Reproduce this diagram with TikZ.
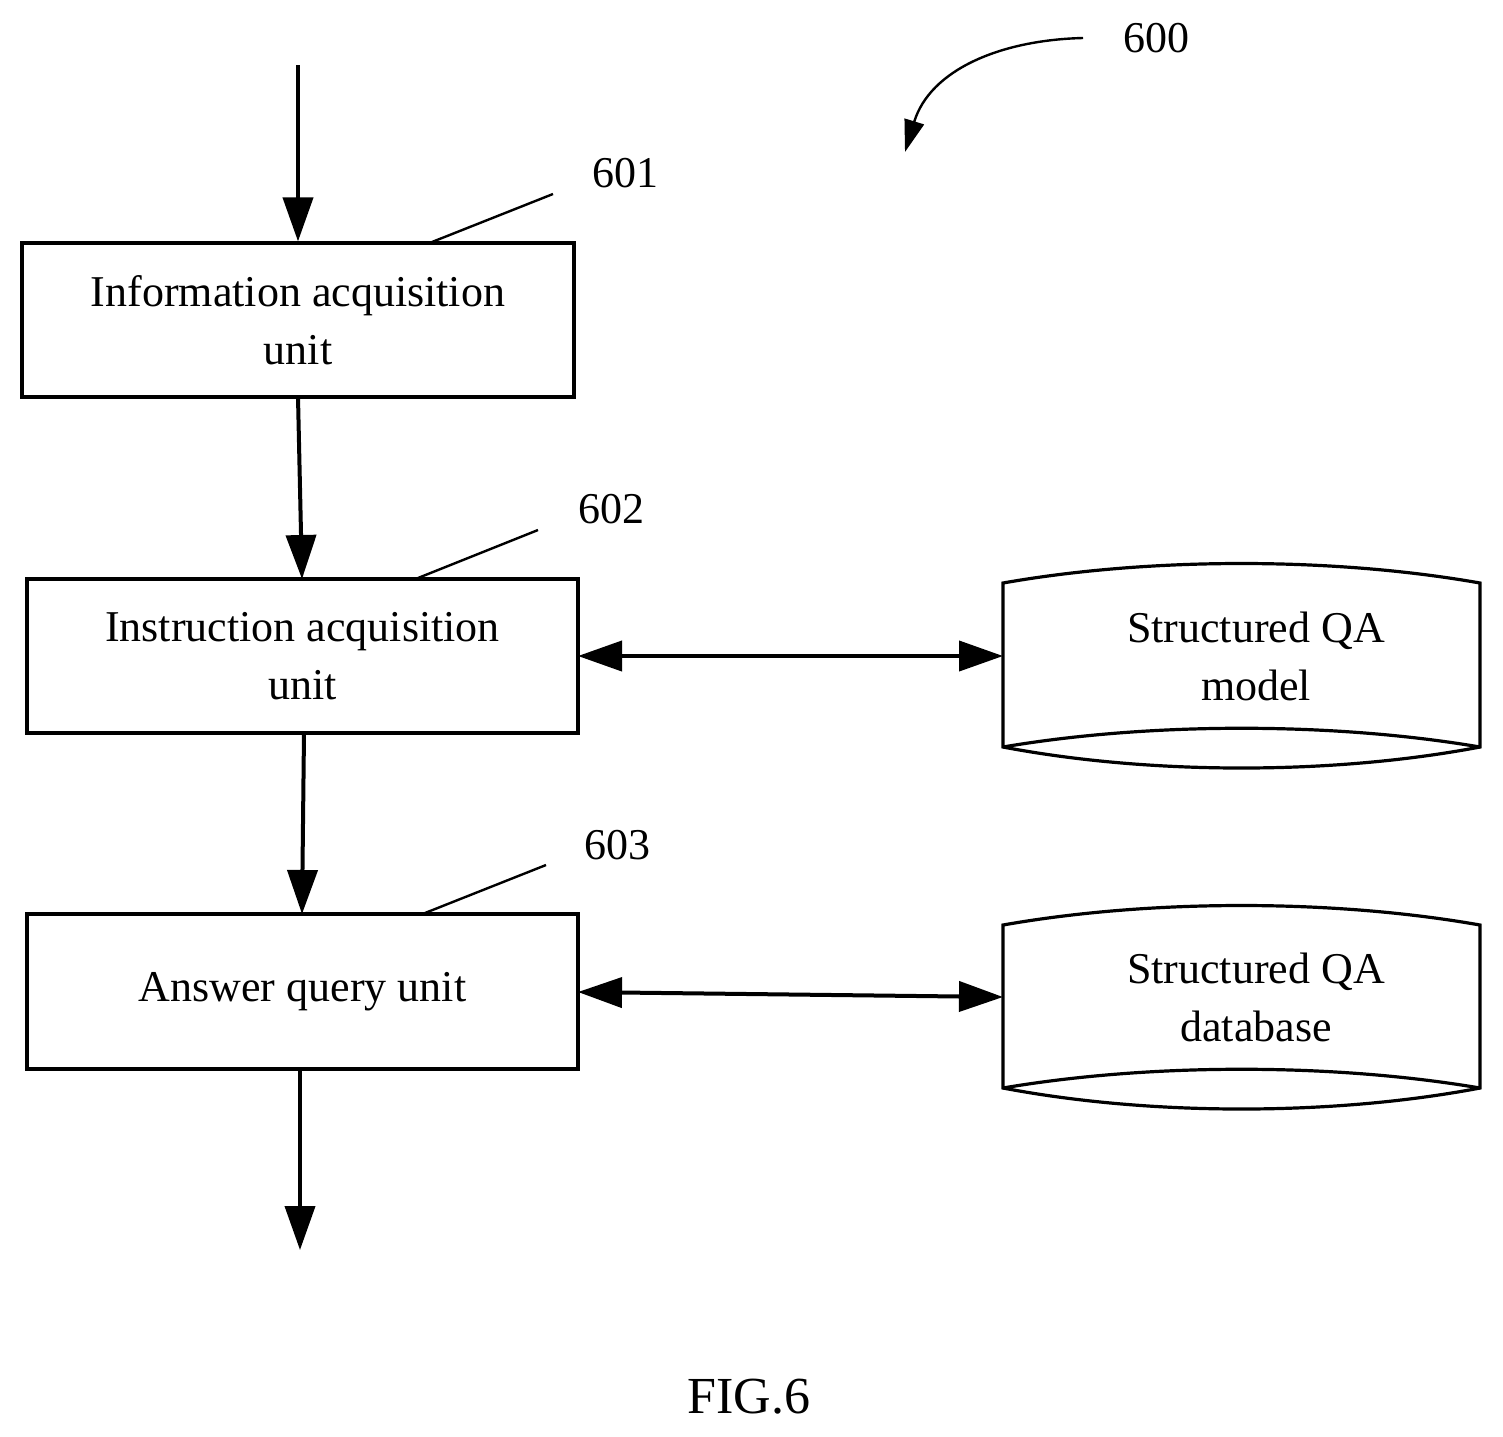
\documentclass[tikz,border=0pt]{standalone}
\usepackage{fontspec}
\setmainfont{Liberation Serif}
\usetikzlibrary{arrows.meta}
\begin{document}
\begin{tikzpicture}[x=0.5pt,y=-0.5pt,
  box/.style={draw,line width=1.6pt,inner sep=0pt,align=center,font=\fontsize{22}{29}\selectfont},
  arr/.style={line width=2pt,-{Triangle[length=22pt,width=15pt]}},
  darr/.style={line width=2pt,{Triangle[length=22pt,width=15pt]}-{Triangle[length=22pt,width=15pt]}},
  lead/.style={line width=1.2pt},
  lbl/.style={font=\fontsize{22}{26}\selectfont}]
\useasboundingbox (0,0) rectangle (1503,1436);
\node[box,minimum width=276pt,minimum height=77pt] (b1) at (298,320) {Information acquisition\\unit};
\node[box,minimum width=275.5pt,minimum height=77pt] (b2) at (302.5,656) {Instruction acquisition\\unit};
\node[box,minimum width=275.5pt,minimum height=77.5pt] (b3) at (302.5,991.5) {Answer query unit};
% cylinders
\draw[line width=1.6pt] (1003,583) .. controls (1150,557) and (1333,557) .. (1480,583) -- (1480,747)
  .. controls (1333,775) and (1150,775) .. (1003,747) -- cycle;
\draw[line width=1.6pt] (1003,747) .. controls (1150,722) and (1333,722) .. (1480,747);
\node[lbl,align=center,font=\fontsize{22}{29}\selectfont] (c1) at (1256,656) {Structured QA\\model};
\coordinate (c1w) at (1003,656);
\draw[line width=1.6pt] (1003,925) .. controls (1150,899) and (1333,899) .. (1480,925) -- (1480,1088)
  .. controls (1333,1116) and (1150,1116) .. (1003,1088) -- cycle;
\draw[line width=1.6pt] (1003,1088) .. controls (1150,1063) and (1333,1063) .. (1480,1088);
\node[lbl,align=center,font=\fontsize{22}{29}\selectfont] (c2) at (1256,997) {Structured QA\\database};
\coordinate (c2w) at (1003,997);
% arrows
\coordinate (in) at (298,65);
\coordinate (out) at (300,1250);
\draw[arr] (in) -- (b1.north);
\draw[arr] (298,397) -- (302,579);
\draw[arr] (304,733) -- (302,914);
\draw[arr] (300,1069) -- (out);
\draw[darr] (578,656) -- (c1w);
\draw[darr] (578,992) -- (c2w);
% leaders
\node[lbl] (l1) at (625,173) {601};
\node[lbl] (l2) at (611,509) {602};
\node[lbl] (l3) at (617,845) {603};
\draw[lead] (432,242) -- (553,194);
\draw[lead] (418,578) -- (538,530);
\draw[lead] (425,913) -- (546,865);
\node[lbl] (l0) at (1156,38) {600};
\draw[line width=1.2pt,-{Triangle[length=16pt,width=10pt]}] (1083,38) .. controls (1000,40) and (930,70) .. (905,152);
\node[font=\fontsize{26}{30}\selectfont] (fig) at (749,1397) {FIG.6};
\end{tikzpicture}
\end{document}
